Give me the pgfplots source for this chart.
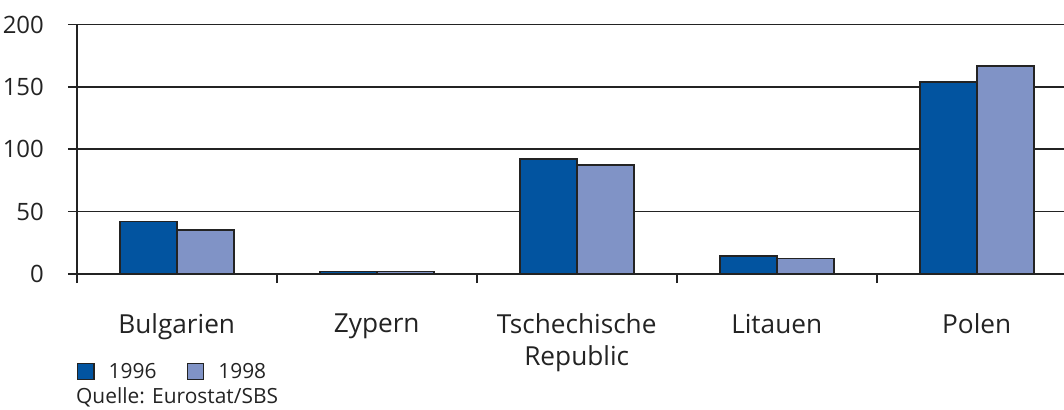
\documentclass[border=0pt]{standalone}
\usepackage{pgfplots}
\pgfplotsset{compat=1.18}
\usepackage{fontspec}
\setmainfont{Open Sans}
\definecolor{c96}{RGB}{2,84,160}
\definecolor{c98}{RGB}{128,147,198}
\definecolor{ln}{RGB}{35,35,35}
\begin{document}
\begin{tikzpicture}[x=1bp,y=1bp]
\useasboundingbox (0,0) rectangle (1064,409);
\begin{axis}[
  at={(76.7bp,135bp)}, anchor=south west,
  scale only axis, width=987.3bp, height=249.5bp,
  xmin=-0.5, xmax=4.4365, ymin=0, ymax=200,
  ybar=0pt, bar width=0.285,
  axis x line*=bottom, axis y line*=left,
  axis line style={-, line width=1.8bp, color=ln},
  ytick={0,50,100,150,200},
  ymajorgrids, grid style={line width=1.6bp, color=ln},
  xtick={0,1,2,3,4},
  xticklabels={Bulgarien,Zypern,{Tschechische\\Republic},Litauen,Polen},
  minor xtick={-0.5,0.5,1.5,2.5,3.5},
  major x tick style={draw=none},
  tick align=outside,
  major tick length=8.7bp, minor tick length=9bp,
  tick style={line width=1.6bp, color=ln},
  /pgf/number format/assume math mode=true,
  yticklabel style={font=\fontsize{24}{28}\selectfont, inner sep=0pt, anchor=east, xshift=-24bp, text=ln},
  xticklabel style={font=\fontsize{26.3}{31.7}\selectfont, inner sep=0pt, anchor=north, align=center, yshift=-31bp, text=ln},
  legend style={at={(0,-0.391)}, anchor=west, draw=none, fill=none, inner sep=0pt,
     font=\fontsize{21}{24}\selectfont, text=ln,
     legend columns=2,
     /tikz/every odd column/.append style={column sep=12bp},
     /tikz/every even column/.append style={column sep=28bp},
     legend cell align=left},
  legend image code/.code={\draw[#1, line width=1.6bp] (0bp,-8.1bp) rectangle (16.2bp,8.1bp);},
]
\addplot[fill=c96, draw=ln, line width=1.6bp] coordinates {(0,42) (1,2) (2,92) (3,14.5) (4,154)};
\addplot[fill=c98, draw=ln, line width=1.6bp] coordinates {(0,35.5) (1,2) (2,87.5) (3,12.5) (4,166.5)};
\legend{1996,1998}
\end{axis}
\node[anchor=base west, inner sep=0pt, font=\fontsize{21}{24}\selectfont, text=ln] at (76,5.5) {Quelle: Eurostat/SBS};
\end{tikzpicture}
\end{document}
